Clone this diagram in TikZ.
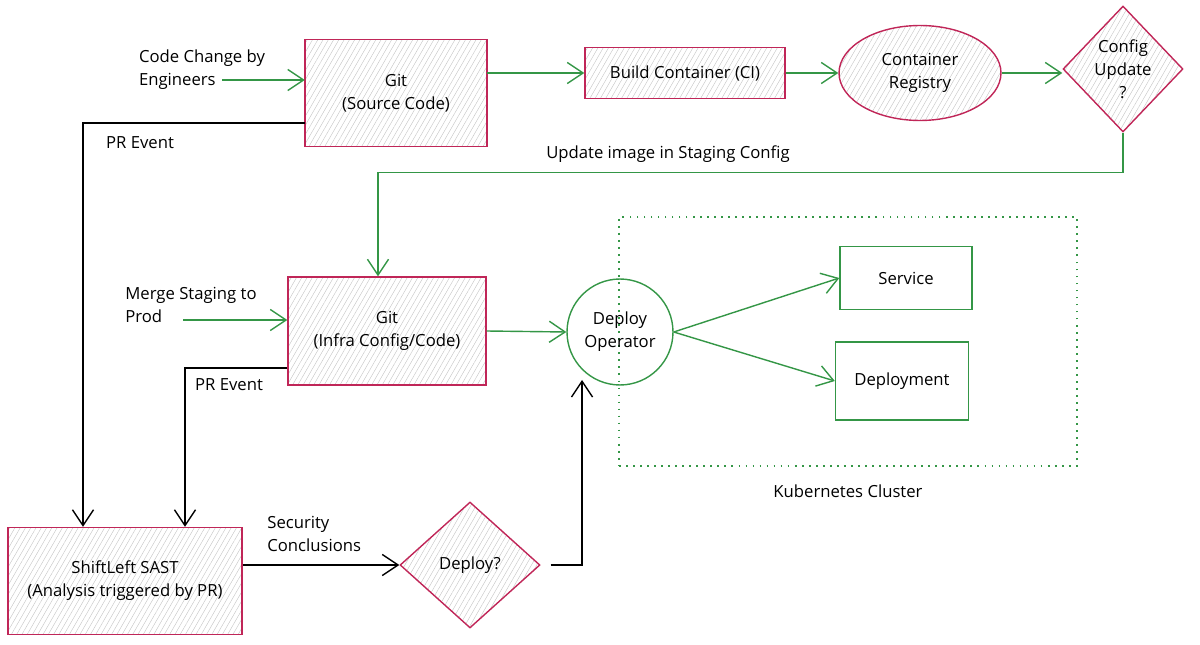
\documentclass[tikz,border=0pt]{standalone}
\usepackage{fontspec}
\setmainfont{Open Sans}
\usepackage{tikz}
\usetikzlibrary{arrows.meta}
\usetikzlibrary{shapes.geometric}
\usetikzlibrary{patterns.meta}
\usetikzlibrary{positioning}
\definecolor{crimson}{RGB}{192,38,88}
\definecolor{leaf}{RGB}{52,150,70}
\tikzset{
	hatch/.style={pattern={Lines[angle=60,distance=2.6pt,line width=0.25pt]},pattern color=gray!45},
	gitbox/.style={rectangle,draw=crimson,line width=0.8pt,hatch,align=center},
	decision/.style={diamond,draw=crimson,line width=0.8pt,hatch,align=center,inner sep=0pt},
	greenbox/.style={rectangle,draw=leaf,line width=0.8pt,align=center},
	flow/.style={draw=leaf,line width=0.8pt,-{Straight Barb[length=9pt,width=12pt]}},
	prflow/.style={draw=black,line width=0.8pt,-{Straight Barb[length=9pt,width=12pt]}},
	lbl/.style={align=left,inner sep=0pt}
}

\begin{document}
\begin{tikzpicture}[x=0.02cm,y=-0.02cm,font=\fontsize{9.5}{13}\selectfont]
        \useasboundingbox (0,0) rectangle (1200,645);

        % ==================================================
        % 1. TOP ROW: SOURCE TO REGISTRY
        % ==================================================
        \node[gitbox,minimum width=3.64cm,minimum height=2.14cm] (gitSrc) at (396,93) {Git\\(Source Code)};
        \node[lbl] (codeChange) at (202,70) {Code Change by\\Engineers};
        \coordinate (ccStart) at (222,80);

        \node[gitbox,minimum width=4cm,minimum height=1.02cm] (build) at (685,73) {Build Container (CI)};
        \node[ellipse,draw=crimson,line width=0.8pt,hatch,align=center,
              minimum width=3.24cm,minimum height=1.9cm] (registry) at (920,73) {Container\\Registry};
        \node[decision,minimum width=2.4cm,minimum height=2.52cm] (cfgUpd) at (1123,69) {Config\\Update\\?};

        \node (updLbl) at (668,154) {Update image in Staging Config};

        % ==================================================
        % 2. MIDDLE ROW: INFRA REPO AND CLUSTER
        % ==================================================
        \node[gitbox,minimum width=3.96cm,minimum height=2.16cm] (gitInfra) at (387,331) {Git\\(Infra Config/Code)};
        \node[lbl] (merge) at (191,305) {Merge Staging to\\Prod};
        \coordinate (mgStart) at (183,320);

        % Cluster frame
        \node[draw=leaf,line width=0.8pt,dash pattern=on 1pt off 3pt,
              minimum width=9.16cm,minimum height=4.98cm] (k8s) at (848,341.5) {};
        \node[below=0.24cm of k8s] (k8sLbl) {Kubernetes Cluster};

        \node[circle,draw=leaf,line width=0.8pt,minimum size=2.12cm,align=center] (depOp) at (620,332) {Deploy\\Operator};
        \node[greenbox,minimum width=2.64cm,minimum height=1.26cm] (service) at (906,278) {Service};
        \node[greenbox,minimum width=2.66cm,minimum height=1.56cm] (deployment) at (902,381) {Deployment};

        % ==================================================
        % 3. BOTTOM ROW: SAST AND GATE
        % ==================================================
        \node[gitbox,minimum width=4.68cm,minimum height=2.14cm] (sast) at (125,581) {ShiftLeft SAST\\(Analysis triggered by PR)};
        \node[decision,minimum width=2.8cm,minimum height=2.52cm] (deployQ) at (470,565) {Deploy?};
        \node[lbl,anchor=west] (secLbl) at (267,534) {Security\\Conclusions};

        \node[lbl] (prOne) at (140,143) {PR Event};
        \node[lbl] (prTwo) at (229,385) {PR Event};

        % ==================================================
        % 4. CONNECTORS
        % ==================================================
        \draw[flow] (ccStart) -- (ccStart -| gitSrc.west);
        \draw[flow] (gitSrc.east |- build.west) -- (build.west);
        \draw[flow] (build.east) -- (registry.west);
        \draw[flow] (registry.east) -- (registry.east -| cfgUpd.west);
        \draw[flow] (cfgUpd.south) -- ++(0,40) -| ([xshift=-0.18cm]gitInfra.north);

        \draw[flow] (mgStart) -- (mgStart -| gitInfra.west);
        \draw[flow] (gitInfra.east) -- (depOp.west);
        \draw[flow] (depOp.east) -- (service.west);
        \draw[flow] (depOp.east) -- (deployment.west);

        \draw[prflow] ([yshift=-0.6cm]gitSrc.west) -| ([xshift=-0.84cm]sast.north);
        \draw[prflow] ([yshift=-0.74cm]gitInfra.west) -| ([xshift=1.2cm]sast.north);
        \draw[prflow] (sast.east |- deployQ.west) -- (deployQ.west);
        \draw[prflow,shorten <=0.2cm] (deployQ.east) -| ([yshift=-0.2cm]depOp.south west);

\end{tikzpicture}
\end{document}
